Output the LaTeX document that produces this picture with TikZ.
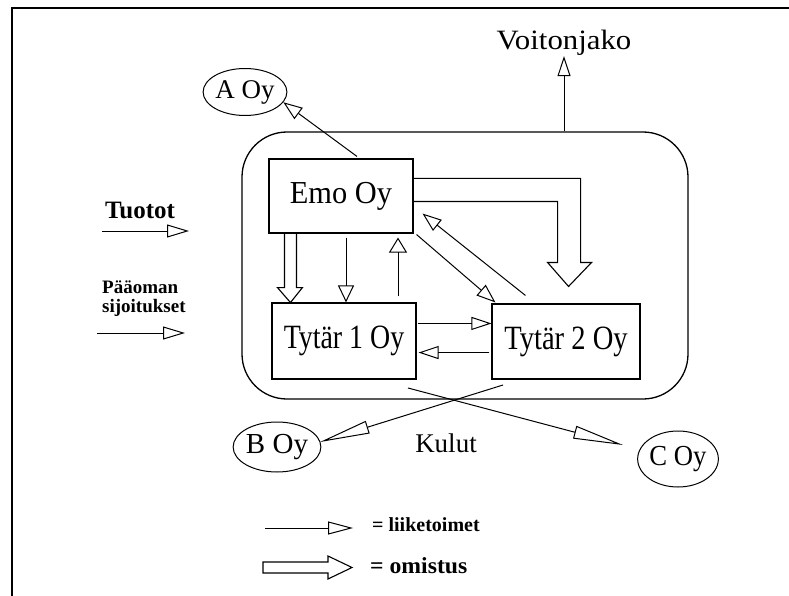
\documentclass[tikz,border=0pt]{standalone}
\usepackage{fontspec}
\usepackage{graphicx}
\setmainfont{Liberation Serif}
\usetikzlibrary{arrows.meta,calc,shapes.geometric}
\newcommand\sxtext[3]{{\fontsize{#2pt}{#2pt}\selectfont\scalebox{#1}[1]{#3}}}
\begin{document}
\begin{tikzpicture}[x=1pt,y=-1pt,
  box/.style={draw,line width=1.1pt,inner sep=0pt},
  oval/.style={draw,ellipse,line width=1pt,inner sep=0pt},
  liike/.style={line width=1pt,-{Triangle[open,length=19pt,width=14pt,line width=1pt]}},
  longtip/.style={line width=1pt,-{Triangle[open,length=50pt,width=13pt,line width=1pt]}},
  hollow/.style={draw,line width=1.1pt,line join=miter},
  lbl/.style={inner sep=0pt,anchor=base}]
\useasboundingbox (0,0) rectangle (789,596);
% frame
\draw[line width=2.2pt] (12,596) -- (12,8) -- (789,8);
% group container
\node[draw,line width=1.3pt,rounded corners=45pt,minimum width=446pt,minimum height=267pt,inner sep=0pt] (grp) at (465,265.5) {};
% companies
\node[box,minimum width=144pt,minimum height=74pt] (emo) at (341,196) {\sxtext{0.95}{32}{Emo Oy}};
\node[box,minimum width=144pt,minimum height=76pt] (tyt1) at (344,341) {\sxtext{0.82}{34}{Tytär 1 Oy}};
\node[box,minimum width=148pt,minimum height=75pt] (tyt2) at (566,341.5) {\sxtext{0.84}{34}{Tytär 2 Oy}};
\node[oval,minimum width=82pt,minimum height=47pt] (aoy) at (245,92) {\sxtext{1}{27}{A Oy}};
\node[oval,minimum width=83pt,minimum height=50pt] (boy) at (277,447) {\sxtext{1}{29}{B Oy}};
\node[oval,minimum width=78pt,minimum height=56pt] (coy) at (678,459) {\sxtext{0.92}{29}{C Oy}};
% labels
\node[lbl] (voit) at (564,50) {\sxtext{1.1}{28}{Voitonjako}};
\node[lbl] (kul) at (446,452) {\sxtext{1}{27}{Kulut}};
\node[lbl] (tuot) at (140,218) {\sxtext{1}{25}{\bfseries Tuotot}};
\node[inner sep=0pt,anchor=base west] (paa1) at (102,293) {\sxtext{1}{19}{\bfseries Pääoman}};
\node[inner sep=0pt,anchor=base west] (paa2) at (102,312) {\sxtext{1}{19}{\bfseries sijoitukset}};
\node[inner sep=0pt,anchor=base west] (leg1) at (372,531) {\sxtext{1}{20}{\bfseries = liiketoimet}};
\node[inner sep=0pt,anchor=base west] (leg2) at (370,573) {\sxtext{1.03}{23}{\bfseries = omistus}};
% free ends
\coordinate (tuotS) at (102,231); \coordinate (tuotE) at (189,231);
\coordinate (paaS) at (97,333);   \coordinate (paaE) at (185,333);
\coordinate (l1S) at (265,528);   \coordinate (l1E) at (353,528);
\coordinate (k1) at (408,388);    \coordinate (ctip) at (623,445);
\coordinate (k2) at (503,385);    \coordinate (btip) at (320,442);
% transactions (thin arrows)
\draw[liike] ($(emo.north)+(16,-2)$) -- (aoy.-15);
\draw[liike,-{Triangle[open,length=20pt,width=13pt,line width=1pt]}] (grp.north -| voit.south) -- (voit.south);
\draw[liike,-{Triangle[open,length=17pt,width=16pt,line width=1pt]}] ($(emo.south)+(5,4)$) -- ($(tyt1.north)+(2,0)$);
\draw[liike,-{Triangle[open,length=15pt,width=18pt,line width=1pt]}] ($(tyt1.north)+(54,-6)$) -- ($(emo.south)+(57,4)$);
\draw[liike] ($(emo.south east)+(3,1)$) -- ($(tyt2.north west)+(4,-1)$);
\draw[liike] ($(tyt2.north west)+(34,-8)$) -- ($(emo.south east)+(9,-20)$);
\draw[liike,-{Triangle[open,length=20pt,width=13pt,line width=1pt]}] ($(tyt1.north east)+(1,21)$) -- ($(tyt2.north west)+(0,20)$);
\draw[liike,-{Triangle[open,length=20pt,width=13pt,line width=1pt]}] ($(tyt2.south west)+(-2,-27)$) -- ($(tyt1.south east)+(2,-27)$);
\draw[longtip] (k1) -- (ctip);
\draw[longtip] (k2) -- (btip);
\draw[liike,-{Triangle[open,length=22pt,width=13pt,line width=1pt]}] (tuotS) -- (tuotE);
\draw[liike,-{Triangle[open,length=22pt,width=13pt,line width=1pt]}] (paaS) -- (paaE);
\draw[liike,-{Triangle[open,length=25pt,width=13pt,line width=1pt]}] (l1S) -- (l1E);
% ownership (hollow arrows)
\draw[hollow,shift={(emo.south west)}] (16,0) -- (16,54) -- (9,54) -- (22,69) -- (34,54) -- (28,54) -- (28,0);
\draw[hollow,shift={(emo.north east)}] (0,20) -- (167,20) -- (167,104) -- (178,104) -- (155,128) -- (134,104) -- (144,104) -- (144,43) -- (0,43);
\draw[hollow] (263,562) -- (328,562) -- (328,556) -- (352,567.5) -- (328,579) -- (328,573) -- (263,573) -- cycle;
\end{tikzpicture}
\end{document}
